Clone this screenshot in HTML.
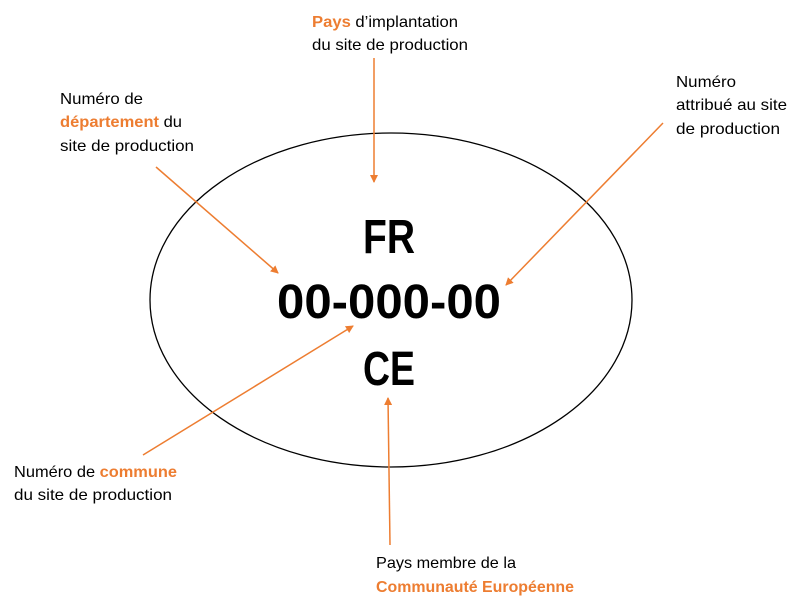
<!DOCTYPE html>
<html><head><meta charset="utf-8"><style>html,body{margin:0;padding:0;background:#fff}svg{display:block}</style></head>
<body>
<svg width="798" height="605" viewBox="0 0 798 605" xmlns="http://www.w3.org/2000/svg" font-family="'Liberation Sans', sans-serif">
<defs><marker id="a" markerWidth="8" markerHeight="8" refX="7" refY="4" orient="auto" markerUnits="userSpaceOnUse"><path d="M0,0 L8,4 L0,8 z" fill="#ED7D31"/></marker></defs>
<rect width="798" height="605" fill="#fff"/>
<ellipse cx="391" cy="300" rx="241" ry="167" fill="none" stroke="#000" stroke-width="1.3"/>
<g font-weight="bold" font-size="48" text-anchor="middle" fill="#000">
<text x="389" y="253" textLength="52" lengthAdjust="spacingAndGlyphs">FR</text>
<text x="389" y="318" textLength="224" lengthAdjust="spacingAndGlyphs">00-000-00</text>
<text x="389" y="385" textLength="52" lengthAdjust="spacingAndGlyphs">CE</text>
</g>
<g stroke="#ED7D31" stroke-width="1.5" marker-end="url(#a)">
<line x1="374" y1="58" x2="374" y2="182"/>
<line x1="156" y1="167" x2="278" y2="273"/>
<line x1="663" y1="123" x2="506" y2="285"/>
<line x1="143" y1="455" x2="353" y2="326"/>
<line x1="390" y1="545" x2="388" y2="398"/>
</g>
<g font-size="16" fill="#000">
<text x="312" y="27" textLength="146" lengthAdjust="spacingAndGlyphs"><tspan fill="#ED7D31" font-weight="bold">Pays</tspan> d’implantation</text>
<text x="312" y="50" textLength="156" lengthAdjust="spacingAndGlyphs">du site de production</text>
<text x="60" y="104" textLength="83" lengthAdjust="spacingAndGlyphs">Numéro de</text>
<text x="60" y="127" textLength="122" lengthAdjust="spacingAndGlyphs"><tspan fill="#ED7D31" font-weight="bold">département</tspan> du</text>
<text x="60" y="151" textLength="134" lengthAdjust="spacingAndGlyphs">site de production</text>
<text x="676" y="87" textLength="60" lengthAdjust="spacingAndGlyphs">Numéro</text>
<text x="676" y="110" textLength="111" lengthAdjust="spacingAndGlyphs">attribué au site</text>
<text x="676" y="134" textLength="104" lengthAdjust="spacingAndGlyphs">de production</text>
<text x="14" y="477" textLength="163" lengthAdjust="spacingAndGlyphs">Numéro de <tspan fill="#ED7D31" font-weight="bold">commune</tspan></text>
<text x="14" y="500" textLength="158" lengthAdjust="spacingAndGlyphs">du site de production</text>
<text x="376" y="568" textLength="140" lengthAdjust="spacingAndGlyphs">Pays membre de la</text>
<text x="376" y="592" fill="#ED7D31" font-weight="bold" textLength="198" lengthAdjust="spacingAndGlyphs">Communauté Européenne</text>
</g>
</svg>
</body></html>
